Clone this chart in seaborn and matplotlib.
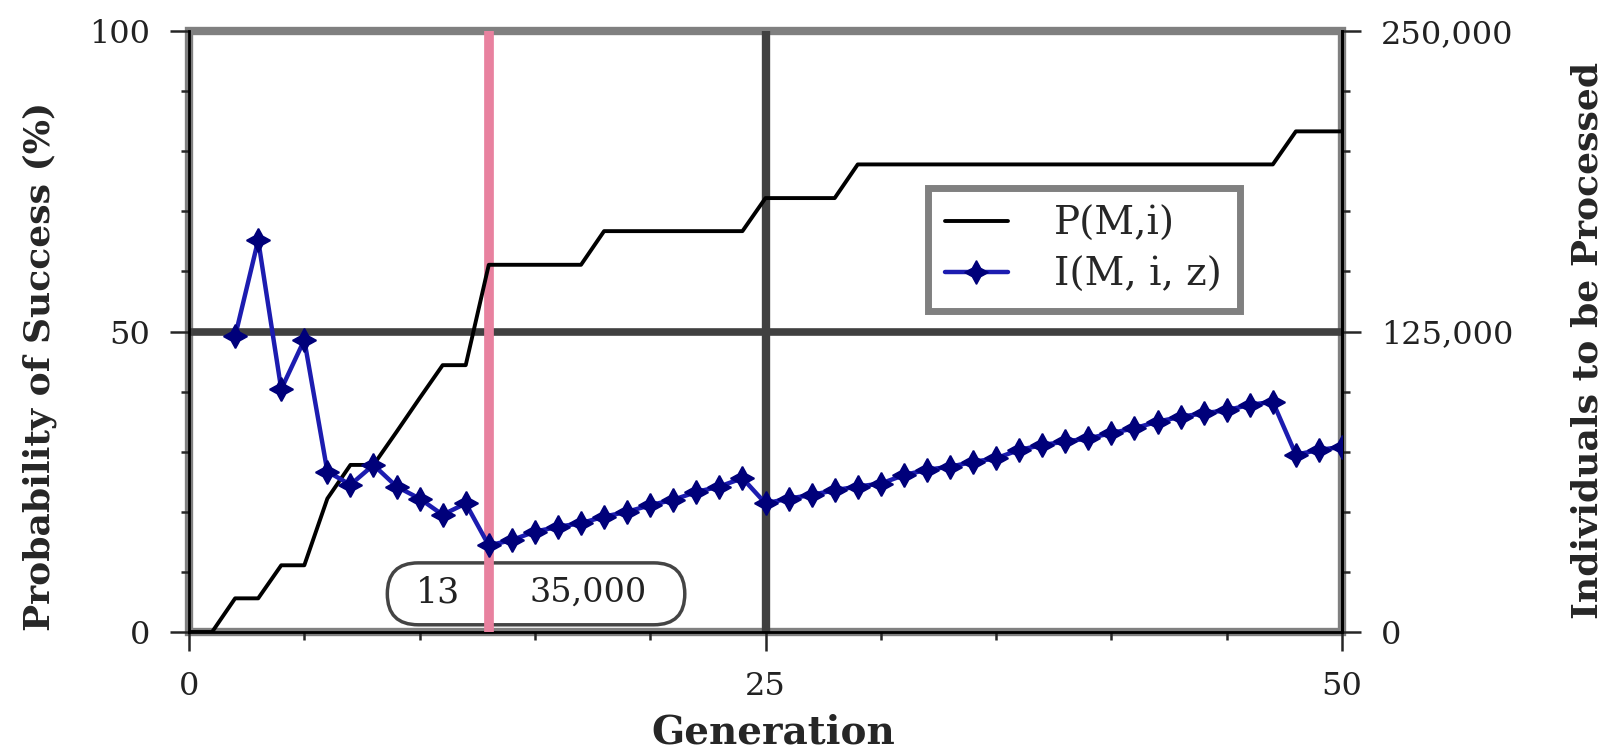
import numpy as np
import pandas as pd
import seaborn as sns
import matplotlib.pyplot as plt
from matplotlib.lines import Line2D
from matplotlib.patches import Rectangle, FancyBboxPatch
from matplotlib.ticker import MultipleLocator, FuncFormatter

sns.set_style("white")
plt.rcParams['font.family'] = ['DejaVu Serif']

# === Data ===
gen_p = list(range(0, 51))
p_success = [0, 0, 5.6, 5.6, 11.1, 11.1, 22.2, 27.8, 27.8, 33.3, 38.9, 44.4, 44.4] \
    + [61.1] * 5 + [66.7] * 7 + [72.2] * 4 + [77.8] * 19 + [83.3] * 3

gen_i = list(range(2, 51))
individuals = [123000, 163000, 101000, 121500, 66750, 61250, 69500, 60500, 55500, 48750, 53500, 36000,
               38250, 41750, 43750, 45250, 48000, 50000, 52750, 55000, 58250, 60500, 64000,
               53500, 55500, 57000, 59000, 60500, 61750, 65250, 67500, 68750, 70750, 72250,
               75750, 77750, 79250, 80500, 82750, 84750, 87500, 89500, 91000, 92250, 94500, 95750,
               73750, 75750, 77000]

best_gen = 13
best_value = "35,000"
series_names = ["P(M,i)", "I(M, i, z)"]

df_p = pd.DataFrame({"Generation": gen_p, "P": p_success})
df_i = pd.DataFrame({"Generation": gen_i, "I": individuals})

blue_line = '#1c1cb0'
blue_mark = '#00007a'

# === Figure ===
fig, ax = plt.subplots(figsize=(16.17, 7.52), dpi=100)
fig.subplots_adjust(left=189 / 1617, right=1342 / 1617, bottom=1 - 632 / 752, top=1 - 31 / 752)
ax2 = ax.twinx()

ax.set_xlim(0, 50)
ax.set_ylim(0, 100)
ax2.set_ylim(0, 250000)

# reference lines
ax.axvline(25, color='#404040', lw=6, zorder=1)
ax.axhline(50, color='#404040', lw=5.5, zorder=1)
ax.axvline(best_gen, color='#e8819f', lw=7, zorder=3)

# frame: gray band + black axis lines
ax.add_patch(Rectangle((0, 0), 1, 1, transform=ax.transAxes, fill=False,
                       edgecolor='#808080', lw=6, clip_on=False, zorder=0.5))
ax.spines['top'].set_visible(False)
for s in ['left', 'bottom', 'right']:
    ax.spines[s].set_color('black')
    ax.spines[s].set_linewidth(2)
for s in ['top', 'left', 'bottom']:
    ax2.spines[s].set_visible(False)
ax2.spines['right'].set_color('black')
ax2.spines['right'].set_linewidth(2)

# annotation box
box = FancyBboxPatch((8.6, 1.2), 12.9, 10.3, boxstyle="round,pad=0,rounding_size=1.34",
                     mutation_aspect=3.84, facecolor='white', edgecolor='#444444', lw=2.5, zorder=2)
ax.add_patch(box)
ax.text(10.8, 6.5, str(best_gen), ha='center', va='center', fontsize=25, color='#222222', zorder=2.5)
ax.text(17.3, 6.5, best_value, ha='center', va='center', fontsize=24, color='#222222', zorder=2.5)

# series
sns.lineplot(data=df_p, x="Generation", y="P", ax=ax, color='black', linewidth=2.8, zorder=5)
sns.lineplot(data=df_i, x="Generation", y="I", ax=ax2, color=blue_line, linewidth=3.2,
             marker=(4, 1, 0), markersize=17, markerfacecolor=blue_mark, markeredgecolor=blue_mark,
             markeredgewidth=1.2, zorder=5)

# ticks
ax.set_xticks([0, 25, 50])
ax.xaxis.set_minor_locator(MultipleLocator(5))
ax.set_yticks([0, 50, 100])
ax.yaxis.set_minor_locator(MultipleLocator(10))
ax2.set_yticks([0, 125000, 250000])
ax2.yaxis.set_minor_locator(MultipleLocator(25000))
ax2.yaxis.set_major_formatter(FuncFormatter(lambda v, p: f"{int(v):,}"))

ax.tick_params(axis='both', which='major', direction='out', length=14, width=1.8,
               labelsize=23, labelcolor='#222222', pad=14, bottom=True, left=True)
ax.tick_params(axis='both', which='minor', direction='out', length=6, width=1.8, bottom=True, left=True)
ax2.tick_params(axis='y', which='major', direction='out', length=14, width=1.8,
                labelsize=23, labelcolor='#222222', pad=14, right=True)
ax2.tick_params(axis='y', which='minor', direction='out', length=6, width=1.8, right=True)

ax.set_xlabel("")
ax.set_ylabel("")
ax2.set_ylabel("")

fig.text(773 / 1617, 1 - 733 / 752, "Generation", ha='center', va='center',
         fontsize=28, fontweight='bold')
fig.text(40 / 1617, 1 - 366 / 752, "Probability of Success (%)", ha='center', va='center',
         rotation=90, fontsize=26, fontweight='bold')
fig.text(1587 / 1617, 1 - 340 / 752, "Individuals to be Processed", ha='center', va='center',
         rotation=90, fontsize=26, fontweight='bold')

# legend
handles = [Line2D([], [], color='black', lw=2.8),
           Line2D([], [], color=blue_line, lw=3.2, marker=(4, 1, 0), markersize=17,
                  markerfacecolor=blue_mark, markeredgecolor=blue_mark)]
leg = ax2.legend(handles, series_names, loc='center', bbox_to_anchor=(0.776, 0.636),
                 fontsize=28, frameon=True, fancybox=False, framealpha=1,
                 borderpad=0.45, labelspacing=0.35, handlelength=1.6, handletextpad=1.2)
leg.get_frame().set_edgecolor('#808080')
leg.get_frame().set_linewidth(5)

plt.savefig("out.png", dpi=100)
